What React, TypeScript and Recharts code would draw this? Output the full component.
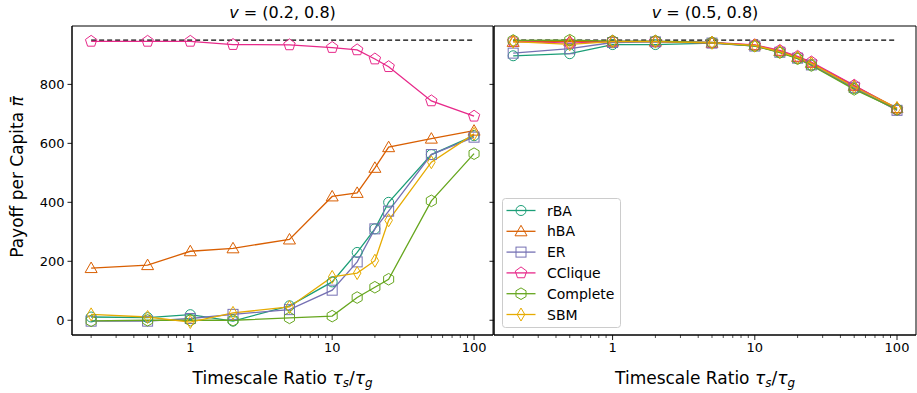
import React from 'react';
import { LineChart, Line, XAxis, YAxis, ReferenceArea, ReferenceLine, Legend } from 'recharts';

document.body.style.margin = '0';

// timescale ratios tau_s / tau_g
const ratios = [0.2, 0.5, 1, 2, 5, 10, 15, 20, 25, 50, 100];

const seriesNames = ['rBA', 'hBA', 'ER', 'CClique', 'Complete', 'SBM'];
const seriesColors = ['#1b9e77', '#d95f02', '#7570b3', '#e7298a', '#66a61e', '#e6ab02'];
const seriesShapes = ['circle', 'triangle', 'square', 'pentagon', 'hexagon', 'diamond'];

// v = (0.2, 0.8)
const rbaLeft = [11, 9, 19, -3, 49, 130, 230, 310, 400, 562, 626];
const hbaLeft = [177, 187, 234, 244, 274, 420, 432, 517, 587, 616, 643];
const erLeft = [-3, -3, 6, 20, 36, 102, 198, 310, 370, 562, 621];
const ccliqueLeft = [946, 946, 946, 935, 934, 925, 917, 886, 860, 744, 692];
const completeLeft = [-2, 0, 0, 0, 8, 14, 77, 112, 139, 405, 565];
const sbmLeft = [20, 11, -6, 25, 45, 147, 160, 202, 339, 536, 632];

// v = (0.5, 0.8)
const rbaRight = [897, 904, 935, 935, 940, 931, 909, 888, 866, 786, 714];
const hbaRight = [944, 946, 945, 945, 941, 933, 913, 893, 873, 795, 720];
const erRight = [906, 921, 942, 944, 940, 930, 909, 889, 866, 790, 712];
const ccliqueRight = [946, 940, 946, 946, 942, 934, 915, 895, 876, 797, 716];
const completeRight = [949, 950, 947, 947, 942, 930, 908, 887, 864, 783, 715];
const sbmRight = [945, 936, 945, 945, 941, 932, 911, 891, 871, 791, 720];

const OPTIMUM = 950;

const yTicks = [0, 200, 400, 600, 800];
const majorXTicks = [1, 10, 100];
const xTicks = [0.2, 0.3, 0.4, 0.5, 0.6, 0.7, 0.8, 0.9, 1, 2, 3, 4, 5, 6, 7, 8, 9, 10, 20, 30, 40, 50, 60, 70, 80, 90, 100];

const X_DOMAIN = [0.1466, 136];
const Y_DOMAIN = [-50, 998];

const FONT = 'DejaVu Sans, sans-serif';

const buildRows = (cols: number[][]) =>
    ratios.map((r, i) => {
        const row: any = { ratio: r };
        seriesNames.forEach((name, k) => {
            row[name] = cols[k][i];
        });
        return row;
    });

const leftData = buildRows([rbaLeft, hbaLeft, erLeft, ccliqueLeft, completeLeft, sbmLeft]);
const rightData = buildRows([rbaRight, hbaRight, erRight, ccliqueRight, completeRight, sbmRight]);

const polygon = (n: number, r: number, rot: number) =>
    Array.from({ length: n }, (_, i) => {
        const a = rot + (i * 2 * Math.PI) / n;
        return `${(r * Math.cos(a)).toFixed(2)},${(r * Math.sin(a)).toFixed(2)}`;
    }).join(' ');

const Marker = ({ shape, color, x, y }: { shape: string; color: string; x: number; y: number }) => {
    const common = { fill: 'none', stroke: color, strokeWidth: 1 };
    let el;
    if (shape === 'circle') el = <circle r={5} {...common} />;
    else if (shape === 'triangle') el = <polygon points="0,-6 -6,4.5 6,4.5" {...common} />;
    else if (shape === 'square') el = <rect x={-5} y={-5} width={10} height={10} {...common} />;
    else if (shape === 'pentagon') el = <polygon points={polygon(5, 6, -Math.PI / 2)} {...common} />;
    else if (shape === 'hexagon') el = <polygon points={polygon(6, 5.8, -Math.PI / 2)} {...common} />;
    else el = <polygon points="0,-6.5 -3.8,0 0,6.5 3.8,0" {...common} />;
    return <g transform={`translate(${x},${y})`}>{el}</g>;
};

const makeDot = (shape: string, color: string) => (props: any) => {
    const { cx, cy, index } = props;
    if (cx == null || cy == null) return <g key={index} />;
    return <Marker key={index} shape={shape} color={color} x={cx} y={cy} />;
};

const LogTick = (props: any) => {
    const { x, y, payload } = props;
    const major = majorXTicks.includes(payload.value);
    return (
        <g>
            <line x1={x} x2={x} y1={y} y2={y + (major ? 5 : 3)} stroke="#000" strokeWidth={major ? 0.9 : 0.7} />
            {major && (
                <text x={x} y={y + 17} textAnchor="middle" fontSize={13} fontFamily={FONT} fill="#000">
                    {payload.value}
                </text>
            )}
        </g>
    );
};

const LegendBox = () => (
    <svg width={120} height={131} style={{ display: 'block' }}>
        <rect x={0.5} y={0.5} width={118} height={129} rx={3} fill="#fff" fillOpacity={0.8} stroke="#ccc" />
        {seriesNames.map((name, i) => {
            const cy = 12.5 + i * 20.8;
            return (
                <g key={name}>
                    <line x1={4.5} x2={33.5} y1={cy} y2={cy} stroke={seriesColors[i]} strokeWidth={1.3} />
                    <Marker shape={seriesShapes[i]} color={seriesColors[i]} x={19} y={cy} />
                    <text x={45} y={cy + 5} fontSize={14} fontFamily={FONT} fill="#000">
                        {name}
                    </text>
                </g>
            );
        })}
    </svg>
);

const Panel = ({ data, showYLabels, withLegend }: { data: any[]; showYLabels: boolean; withLegend: boolean }) => (
    <LineChart
        width={showYLabels ? 494 : 433}
        height={393}
        data={data}
        margin={{ top: 26, right: 1, bottom: 28, left: 0 }}
    >
        <XAxis
            dataKey="ratio"
            type="number"
            scale="log"
            domain={X_DOMAIN}
            allowDataOverflow
            ticks={xTicks}
            interval={0}
            tick={<LogTick />}
            tickSize={0}
            tickMargin={0}
            tickLine={false}
            axisLine={{ stroke: '#000', strokeWidth: 1 }}
            height={30}
        />
        <YAxis
            type="number"
            domain={Y_DOMAIN}
            allowDataOverflow
            ticks={yTicks}
            interval={0}
            width={showYLabels ? 72 : 10}
            tickSize={4.5}
            tickMargin={3}
            tickFormatter={(v: number) => (showYLabels ? String(v) : '')}
            tick={{ fontSize: 13, fontFamily: FONT, fill: '#000' }}
            tickLine={{ stroke: '#000', strokeWidth: 0.9 }}
            axisLine={{ stroke: '#000', strokeWidth: 1 }}
        />
        <ReferenceArea
            x1={X_DOMAIN[0]}
            x2={X_DOMAIN[1]}
            y1={Y_DOMAIN[0]}
            y2={Y_DOMAIN[1]}
            fill="none"
            stroke="#000"
            strokeWidth={1}
            ifOverflow="extendDomain"
        />
        <ReferenceLine
            segment={[
                { x: ratios[0], y: OPTIMUM },
                { x: ratios[ratios.length - 1], y: OPTIMUM },
            ]}
            stroke="#000"
            strokeWidth={1.1}
            strokeDasharray="5 3"
        />
        {seriesNames.map((name, i) => (
            <Line
                key={name}
                dataKey={name}
                stroke={seriesColors[i]}
                strokeWidth={1.3}
                dot={makeDot(seriesShapes[i], seriesColors[i])}
                activeDot={false}
                isAnimationActive={false}
            />
        ))}
        {withLegend && (
            <Legend
                layout="vertical"
                align="center"
                verticalAlign="middle"
                content={<LegendBox />}
                wrapperStyle={{ left: 18, top: 198, width: 120, height: 131 }}
            />
        )}
    </LineChart>
);

const tau = <span style={{ fontStyle: 'italic' }}>τ</span>;
const sub = (s: string) => (
    <sub style={{ fontSize: '0.7em', fontStyle: 'italic', verticalAlign: '-0.25em' }}>{s}</sub>
);

const XLabel = ({ left, width }: { left: number; width: number }) => (
    <div
        style={{
            position: 'absolute',
            left,
            width,
            top: 368,
            textAlign: 'center',
            fontSize: 17,
            fontFamily: FONT,
            lineHeight: '20px',
            whiteSpace: 'nowrap',
        }}
    >
        Timescale Ratio {tau}
        {sub('s')}/{tau}
        {sub('g')}
    </div>
);

const Title = ({ left, width, v }: { left: number; width: number; v: string }) => (
    <div
        style={{
            position: 'absolute',
            left,
            width,
            top: 3,
            textAlign: 'center',
            fontSize: 16,
            fontFamily: FONT,
            lineHeight: '20px',
            whiteSpace: 'nowrap',
        }}
    >
        <span style={{ fontStyle: 'italic' }}>v</span> = {v}
    </div>
);

export default function App() {
    return (
        <div style={{ position: 'relative', width: 917, height: 393, background: '#fff', overflow: 'hidden' }}>
            <div style={{ position: 'absolute', left: 0, top: 0 }}>
                <Panel data={leftData} showYLabels withLegend={false} />
            </div>
            <div style={{ position: 'absolute', left: 484, top: 0 }}>
                <Panel data={rightData} showYLabels={false} withLegend />
            </div>

            <Title left={72} width={421} v="(0.2, 0.8)" />
            <Title left={494} width={422} v="(0.5, 0.8)" />
            <XLabel left={72} width={421} />
            <XLabel left={494} width={422} />

            <div
                style={{
                    position: 'absolute',
                    left: 17,
                    top: 177,
                    transform: 'translate(-50%, -50%) rotate(-90deg)',
                    fontSize: 17,
                    fontFamily: FONT,
                    whiteSpace: 'nowrap',
                }}
            >
                Payoff per Capita <span style={{ fontStyle: 'italic' }}>π̄</span>
            </div>
        </div>
    );
}
